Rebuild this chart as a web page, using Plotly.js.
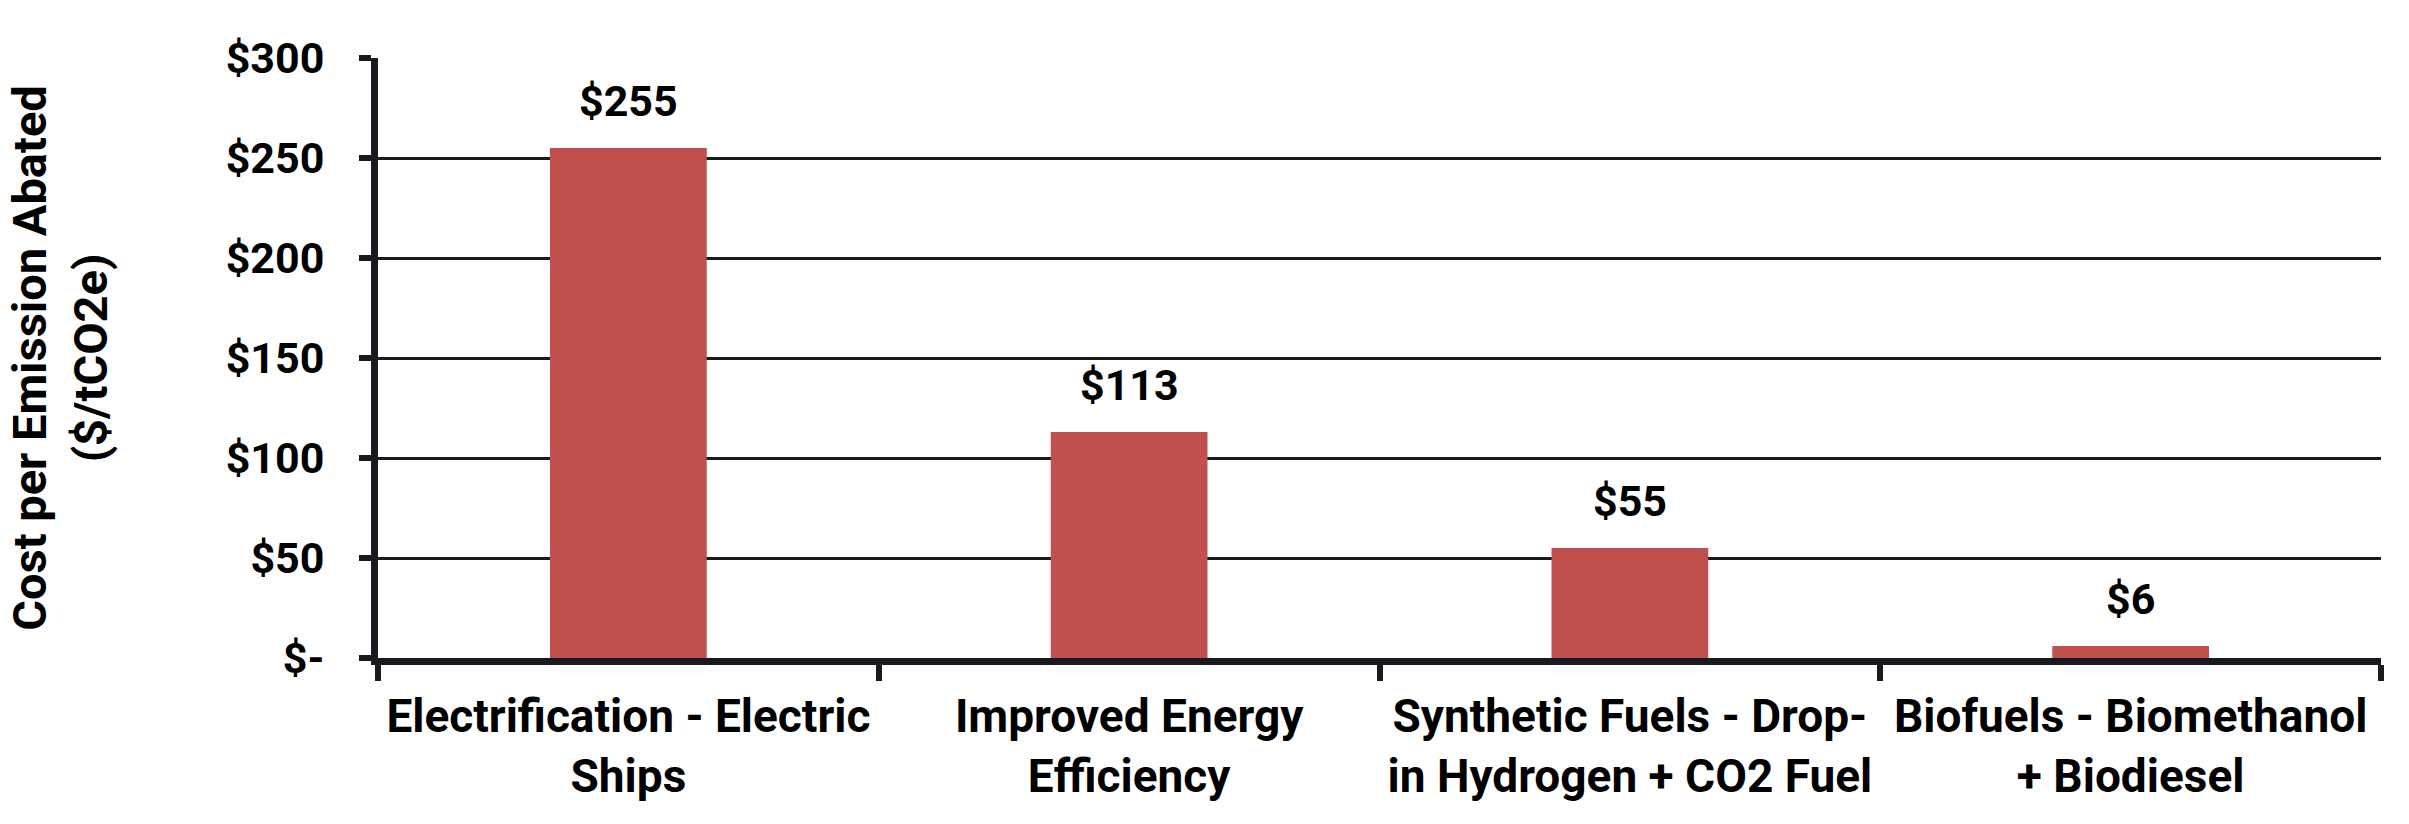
<!DOCTYPE html>
<html>
<head>
<meta charset="utf-8">
<script src="https://cdn.plot.ly/plotly-3.0.1.min.js"></script>
<style>
  html, body { margin: 0; padding: 0; background: #fff; }
  #chart { width: 2409px; height: 824px; }
</style>
</head>
<body>
<div id="chart"></div>
<script>
// categories and values
var categories = [
  "Electrification - Electric<br>Ships",
  "Improved Energy<br>Efficiency",
  "Synthetic Fuels - Drop-<br>in Hydrogen + CO2 Fuel",
  "Biofuels - Biomethanol<br>+ Biodiesel"
];
var costs = [255, 113, 55, 6];
var costLabels = ["$255", "$113", "$55", "$6"];

var yTickVals = [0, 50, 100, 150, 200, 250, 300];
var yTickText = ["$-", "$50", "$100", "$150", "$200", "$250", "$300"];

var barColor = "#C0504D";
var inkColor = "#191921";

var data = [{
  type: "bar",
  x: categories,
  y: costs,
  marker: { color: barColor },
  hoverinfo: "skip"
}];

// value labels above each bar
var annotations = costs.map(function (v, i) {
  return {
    x: categories[i],
    y: v,
    text: costLabels[i],
    showarrow: false,
    yanchor: "bottom",
    yshift: 20,
    font: { family: "Roboto", size: 43, weight: 700, color: "#000" }
  };
});

var layout = {
  width: 2409,
  height: 824,
  margin: { l: 378, r: 28, t: 58, b: 166 },
  paper_bgcolor: "#fff",
  plot_bgcolor: "#fff",
  showlegend: false,
  bargap: 0.687,
  font: { family: "Roboto", color: "#000" },
  xaxis: {
    type: "category",
    showline: true,
    linecolor: inkColor,
    linewidth: 7,
    ticks: "outside",
    tickson: "boundaries",
    ticklen: 16,
    tickwidth: 6,
    tickcolor: inkColor,
    ticklabelstandoff: 12,
    tickfont: { family: "Roboto", size: 46, weight: 700, color: "#000" },
    showgrid: false,
    zeroline: false,
    fixedrange: true
  },
  yaxis: {
    range: [0, 300],
    tickvals: yTickVals,
    ticktext: yTickText,
    showline: true,
    linecolor: inkColor,
    linewidth: 7,
    ticks: "outside",
    ticklen: 12,
    tickwidth: 6,
    tickcolor: inkColor,
    ticklabelstandoff: 26,
    tickfont: { family: "Roboto", size: 43, weight: 700, color: "#000" },
    showgrid: true,
    gridcolor: inkColor,
    gridwidth: 3,
    zeroline: false,
    automargin: false,
    fixedrange: true,
    title: {
      text: "Cost per Emission Abated<br>($/tCO2e)",
      standoff: 106,
      font: { family: "Roboto", size: 47, weight: 700, color: "#000" }
    }
  },
  annotations: annotations
};

Plotly.newPlot("chart", data, layout, { displayModeBar: false, staticPlot: true });
</script>
</body>
</html>
